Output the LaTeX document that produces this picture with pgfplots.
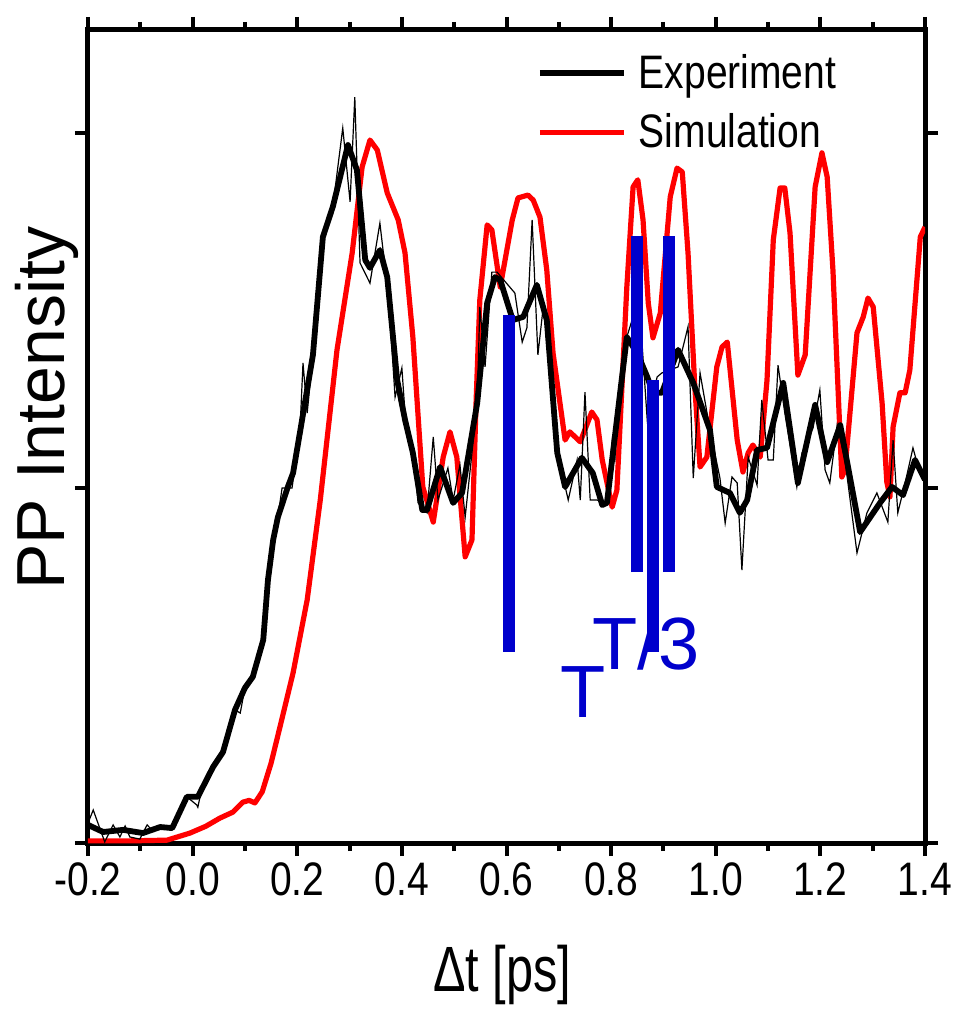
\documentclass[border=0pt]{standalone}
\usepackage{pgfplots}
\pgfplotsset{compat=1.18}
\usepackage{fontspec}
\setmainfont{Liberation Sans}
\newfontfamily\condfont[FakeStretch=0.83]{Liberation Sans}
\newfontfamily\condfontb[FakeStretch=0.76]{Liberation Sans}
\definecolor{barblue}{RGB}{0,0,204}
\begin{document}
\begin{tikzpicture}
\begin{axis}[
  scale only axis,
  width=418.5pt, height=406.5pt,
  xmin=-0.2, xmax=1.4, ymin=0, ymax=2.29,
  axis line style={line width=2.5pt},
  tick style={line width=2pt, black},
  tick align=outside,
  major tick length=6.5pt,
  minor tick length=4pt,
  xtick={-0.2,0,0.2,0.4,0.6,0.8,1.0,1.2,1.4},
  xticklabels={-0.2,0.0,0.2,0.4,0.6,0.8,1.0,1.2,1.4},
  minor x tick num=1,
  ytick={0,1,2},
  yticklabels={},
  ticklabel style={font=\condfont\fontsize{23.5}{23.5}\selectfont},
  xlabel={\condfontb\fontsize{32}{32}\selectfont $\!$\char"0394 t [ps]},
  ylabel={\fontsize{34}{34}\selectfont PP Intensity},
  xlabel style={at={(axis description cs:0.5,-0.162)}, anchor=center},
  ylabel style={at={(axis description cs:-0.049,0.535)}, anchor=center, rotate=0},
  legend style={draw=none, fill=none, at={(axis description cs:0.536,0.975)}, anchor=north west,
    font=\condfont\fontsize{23.5}{23.5}\selectfont, row sep=7pt, inner sep=0pt, nodes={inner sep=2pt}},
  legend cell align=left,
  legend image code/.code={\draw[#1] (0pt,0pt) -- (42pt,0pt); \path (46pt,0pt);},
  reverse legend,
  clip=true,
]
% Simulation (red)
\addplot[red, line width=2.6pt, line join=round] coordinates {
(-0.200,0.006)(-0.120,0.006)(-0.049,0.008)(-0.005,0.028)(0.025,0.047)(0.052,0.070)(0.077,0.087)(0.096,0.115)(0.108,0.120)(0.119,0.113)(0.133,0.144)(0.150,0.225)(0.167,0.327)(0.192,0.479)(0.219,0.685)(0.244,0.966)(0.276,1.389)(0.305,1.662)(0.324,1.904)(0.339,1.980)(0.353,1.952)(0.372,1.831)(0.393,1.755)(0.406,1.662)(0.421,1.425)(0.440,1.003)(0.460,0.904)(0.479,1.087)(0.492,1.158)(0.505,1.087)(0.521,0.806)(0.534,0.854)(0.542,1.248)(0.549,1.530)(0.563,1.741)(0.572,1.727)(0.588,1.566)(0.611,1.755)(0.622,1.817)(0.641,1.825)(0.651,1.811)(0.664,1.763)(0.677,1.614)(0.689,1.380)(0.712,1.135)(0.721,1.158)(0.741,1.130)(0.763,1.214)(0.773,1.192)(0.783,1.079)(0.802,0.946)(0.811,0.994)(0.830,1.566)(0.842,1.848)(0.851,1.868)(0.861,1.755)(0.871,1.521)(0.880,1.423)(0.894,1.493)(0.913,1.820)(0.926,1.901)(0.936,1.890)(0.947,1.662)(0.960,1.285)(0.970,1.059)(0.983,1.087)(1.002,1.341)(1.012,1.397)(1.022,1.411)(1.041,1.135)(1.052,1.045)(1.062,1.099)(1.071,1.121)(1.085,1.087)(1.098,1.304)(1.110,1.699)(1.123,1.845)(1.132,1.845)(1.142,1.718)(1.157,1.318)(1.171,1.375)(1.190,1.848)(1.203,1.944)(1.213,1.876)(1.224,1.614)(1.241,1.031)(1.247,1.051)(1.270,1.437)(1.282,1.482)(1.291,1.535)(1.301,1.510)(1.318,1.239)(1.327,1.017)(1.333,0.975)(1.339,1.172)(1.352,1.268)(1.362,1.268)(1.371,1.332)(1.391,1.707)(1.400,1.735)
};
\addlegendentry{Simulation}
% raw experiment (thin)
\addplot[black, line width=0.6pt, forget plot] coordinates {
(-0.200,0.056)(-0.190,0.093)(-0.168,0.003)(-0.152,0.051)(-0.139,0.017)(-0.129,0.048)(-0.120,0.017)(-0.101,0.011)(-0.087,0.051)(-0.078,0.037)(-0.062,0.045)(-0.039,0.042)(-0.011,0.130)(0.008,0.107)(0.010,0.101)(0.019,0.163)(0.039,0.214)(0.058,0.256)(0.081,0.375)(0.091,0.366)(0.100,0.437)(0.115,0.468)(0.135,0.572)(0.144,0.741)(0.154,0.854)(0.163,0.918)(0.171,1.000)(0.190,1.000)(0.205,1.155)(0.211,1.352)(0.219,1.211)(0.230,1.375)(0.249,1.707)(0.268,1.792)(0.287,2.014)(0.301,1.806)(0.310,2.101)(0.320,1.634)(0.339,1.577)(0.358,1.746)(0.364,1.670)(0.372,1.594)(0.387,1.256)(0.400,1.338)(0.406,1.211)(0.421,1.099)(0.431,0.958)(0.448,0.930)(0.460,1.144)(0.469,0.966)(0.488,1.056)(0.498,0.966)(0.511,1.065)(0.521,0.918)(0.544,1.239)(0.549,1.510)(0.559,1.341)(0.572,1.608)(0.582,1.608)(0.616,1.549)(0.630,1.411)(0.639,1.451)(0.649,1.755)(0.660,1.375)(0.670,1.507)(0.677,1.473)(0.697,1.099)(0.702,1.070)(0.718,0.966)(0.735,1.079)(0.741,0.966)(0.750,1.270)(0.760,0.966)(0.773,0.966)(0.792,0.958)(0.802,1.130)(0.807,1.073)(0.811,1.192)(0.830,1.425)(0.840,1.473)(0.855,1.496)(0.869,1.192)(0.888,1.313)(0.897,1.324)(0.928,1.341)(0.947,1.454)(0.957,1.028)(0.970,1.324)(0.989,1.163)(1.008,1.028)(1.018,0.901)(1.031,1.031)(1.041,1.014)(1.050,0.769)(1.062,1.087)(1.079,1.008)(1.088,1.248)(1.100,1.079)(1.110,1.079)(1.119,1.346)(1.132,1.211)(1.155,1.003)(1.165,1.099)(1.186,1.169)(1.199,1.276)(1.209,1.051)(1.218,1.014)(1.232,1.177)(1.247,1.079)(1.270,0.817)(1.289,0.930)(1.308,0.986)(1.329,0.904)(1.339,1.135)(1.348,0.930)(1.362,1.014)(1.377,1.113)(1.387,1.059)(1.400,1.023)
};
% Experiment (smoothed, thick)
\addplot[black, line width=2.9pt, line join=round] coordinates {
(-0.200,0.051)(-0.171,0.031)(-0.133,0.037)(-0.095,0.028)(-0.062,0.045)(-0.039,0.042)(-0.011,0.130)(0.010,0.130)(0.039,0.214)(0.058,0.256)(0.081,0.375)(0.100,0.437)(0.115,0.468)(0.135,0.572)(0.144,0.741)(0.154,0.854)(0.163,0.918)(0.182,1.003)(0.192,1.042)(0.205,1.155)(0.230,1.375)(0.249,1.707)(0.268,1.792)(0.297,1.966)(0.314,1.896)(0.330,1.642)(0.339,1.620)(0.358,1.670)(0.372,1.594)(0.391,1.304)(0.406,1.192)(0.421,1.099)(0.439,0.938)(0.448,0.938)(0.473,1.059)(0.498,0.958)(0.515,0.986)(0.544,1.239)(0.563,1.521)(0.578,1.594)(0.588,1.586)(0.612,1.473)(0.632,1.482)(0.658,1.572)(0.677,1.473)(0.697,1.099)(0.712,1.003)(0.744,1.085)(0.765,1.042)(0.783,0.952)(0.792,0.958)(0.811,1.192)(0.830,1.425)(0.850,1.380)(0.869,1.313)(0.880,1.268)(0.897,1.268)(0.928,1.389)(0.957,1.296)(0.989,1.163)(1.002,1.003)(1.027,0.986)(1.046,0.930)(1.060,0.966)(1.079,1.107)(1.098,1.113)(1.129,1.296)(1.157,1.014)(1.190,1.234)(1.213,1.073)(1.238,1.177)(1.276,0.876)(1.314,0.958)(1.337,1.003)(1.358,0.980)(1.381,1.079)(1.400,1.023)
};
\addlegendentry{Experiment}
% blue period markers
\addplot[barblue, line width=6pt, forget plot] coordinates {(0.605,0.538) (0.605,1.487)};
\addplot[barblue, line width=6pt, forget plot] coordinates {(0.850,0.763) (0.850,1.710)};
\addplot[barblue, line width=6pt, forget plot] coordinates {(0.880,0.538) (0.880,1.304)};
\addplot[barblue, line width=6pt, forget plot] coordinates {(0.911,0.763) (0.911,1.710)};
\node[text=barblue, font=\fontsize{37}{37}\selectfont, inner sep=0pt] at (axis cs:0.746,0.425) {T};
\node[text=barblue, font=\fontsize{37}{37}\selectfont, inner sep=0pt] at (axis cs:0.867,0.563) {T/3};
\end{axis}
\pgfresetboundingbox
\path[use as bounding box] (current axis.south west) ++(-44pt,-84.5pt) rectangle ([xshift=16.5pt,yshift=15pt]current axis.north east);
\end{tikzpicture}
\end{document}
